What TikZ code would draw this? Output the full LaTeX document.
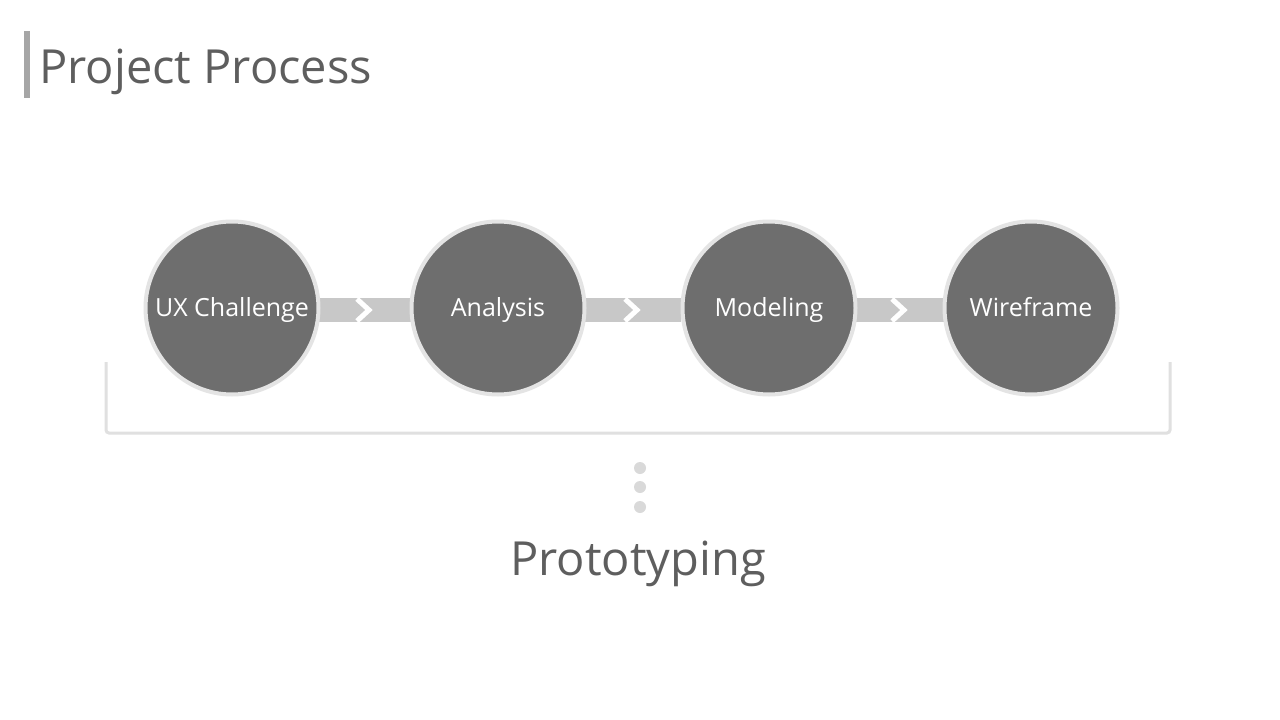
\documentclass[tikz,border=0pt]{standalone}
\usepackage{fontspec}
\setmainfont{Open Sans}
\definecolor{ringc}{HTML}{E4E4E4}
\definecolor{fillc}{HTML}{6E6E6E}
\definecolor{barc}{HTML}{C8C8C8}
\definecolor{brk}{HTML}{E0E0E0}
\definecolor{dotc}{HTML}{D9D9D9}
\definecolor{txtc}{HTML}{5E5E5E}
\definecolor{titlebar}{HTML}{A6A6A6}
\tikzset{
  stage/.style={circle, draw=ringc, line width=4pt, fill=fillc, minimum size=173pt, inner sep=0pt, text=white, text height=17pt, text depth=0pt, font=\fontsize{25}{30}\selectfont},
  barlink/.style={draw=none, fill=barc, minimum width=96pt, minimum height=24pt, inner sep=0pt},
  dotn/.style={circle, fill=dotc, minimum size=12pt, inner sep=0pt},
}
\begin{document}
\begin{tikzpicture}[x=1pt,y=-1pt]
\useasboundingbox[fill=white] (0,0) rectangle (1280,720);
% title
\fill[titlebar] (24,31) rectangle (30,98);
\node[anchor=base west, text=txtc, font=\fontsize{47}{56}\selectfont, inner sep=0pt] (title) at (39,83) {Project Process};
% connector bars
\node[barlink] (b1) at (365,310) {};
\node[barlink] (b2) at (633,310) {};
\node[barlink] (b3) at (900,310) {};
\foreach \b in {b1,b2,b3}{
  \draw[white, line width=5pt, line join=miter] ([xshift=-8pt,yshift=11pt]\b.center) -- ([xshift=4pt]\b.center) -- ([xshift=-8pt,yshift=-11pt]\b.center);
}
% circles
\node[stage] (c1) at (232,308) {UX Challenge};
\node[stage] (c2) at (498,308) {Analysis};
\node[stage] (c3) at (769,308) {Modeling};
\node[stage] (c4) at (1031,308) {Wireframe};
% bracket
\coordinate (bl) at (106,362);
\coordinate (br) at (1170,362);
\draw[brk, line width=3pt, rounded corners=3pt] (bl) -- (106,433) -- (1170,433) -- (br);
% dots
\node[dotn] (d1) at (640,468) {};
\node[dotn] (d2) at (640,487) {};
\node[dotn] (d3) at (640,507) {};
% bottom label
\node[anchor=base, text=txtc, font=\fontsize{47}{56}\selectfont, inner sep=0pt] (proto) at (638,575) {Prototyping};
\end{tikzpicture}
\end{document}
